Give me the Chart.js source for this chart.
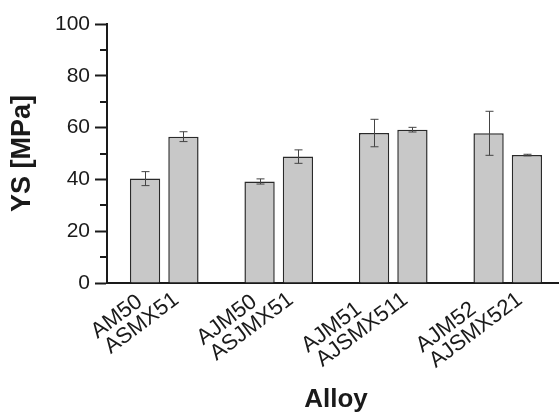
<!DOCTYPE html>
<html>
<head>
<meta charset="utf-8">
<script src="https://cdn.jsdelivr.net/npm/chart.js@4/dist/chart.umd.min.js"></script>
<style>
  html, body { margin: 0; padding: 0; background: #fff; overflow: hidden; }
  #wrap { width: 565px; height: 412px; }
</style>
</head>
<body>
<div id="wrap"><canvas id="canvasPanel"></canvas></div>
<script>
var ALLOYS = [['AM50', 'ASMX51'], ['AJM50', 'ASJMX51'], ['AJM51', 'AJSMX511'], ['AJM52', 'AJSMX521']];
var YS_BASE = [40.3, 39.2, 57.9, 57.8];
var YS_BASE_ERR = [2.7, 1.0, 5.3, 8.5];
var YS_SR = [56.5, 48.8, 59.2, 49.4];
var YS_SR_ERR = [1.9, 2.6, 0.9, 0.3];
var Y_MINOR = [10, 30, 50, 70, 90];

var FONT = "'Liberation Sans', Arial, sans-serif";
var INK = '#1a1a1a';
var TICK_FONT = { family: FONT, size: 22, lineHeight: 0.92 };

// pad the shorter first line so both lines start at the same place once rotated
function leftAlign(lines) {
  var c = document.createElement('canvas').getContext('2d');
  c.font = TICK_FONT.size + 'px ' + FONT;
  var target = c.measureText(lines[1]).width;
  var sp = c.measureText(' ').width;
  var first = lines[0];
  while (c.measureText(first).width < target - sp / 2) first += ' ';
  return [first, lines[1]];
}

var errorBars = {
  id: 'errorBars',
  afterDatasetsDraw: function(chart) {
    var ctx = chart.ctx;
    var y = chart.scales.y;
    ctx.save();
    ctx.strokeStyle = '#444';
    ctx.lineWidth = 1;
    chart.data.datasets.forEach(function(ds, i) {
      var meta = chart.getDatasetMeta(i);
      meta.data.forEach(function(bar, j) {
        var v = ds.data[j], e = ds.errors[j];
        var top = y.getPixelForValue(v + e), bot = y.getPixelForValue(v - e);
        var x = Math.round(bar.x) + 0.5, w = 4;
        ctx.beginPath();
        ctx.moveTo(x, top); ctx.lineTo(x, bot);
        ctx.moveTo(x - w, top); ctx.lineTo(x + w, top);
        ctx.moveTo(x - w, bot); ctx.lineTo(x + w, bot);
        ctx.stroke();
      });
    });
    ctx.restore();
  }
};

var minorTicks = {
  id: 'minorTicks',
  afterDraw: function(chart) {
    var ctx = chart.ctx;
    var y = chart.scales.y;
    ctx.save();
    ctx.strokeStyle = INK;
    ctx.lineWidth = 2;
    Y_MINOR.forEach(function(v) {
      var py = Math.round(y.getPixelForValue(v));
      ctx.beginPath();
      ctx.moveTo(y.right - 7, py);
      ctx.lineTo(y.right, py);
      ctx.stroke();
    });
    ctx.restore();
  }
};

var config = {
  type: 'bar',
  data: {
    labels: ALLOYS.map(leftAlign),
    datasets: [{
      label: 'base',
      data: YS_BASE,
      errors: YS_BASE_ERR,
      backgroundColor: '#c8c8c8',
      borderColor: '#2a2a2a',
      borderWidth: 1.5,
      barPercentage: 0.79,
      categoryPercentage: 0.67
    }, {
      label: 'modified',
      data: YS_SR,
      errors: YS_SR_ERR,
      backgroundColor: '#c8c8c8',
      borderColor: '#2a2a2a',
      borderWidth: 1.5,
      barPercentage: 0.79,
      categoryPercentage: 0.67
    }]
  },
  options: {
    responsive: true,
    maintainAspectRatio: false,
    animation: false,
    layout: { padding: { top: 24, right: 0, bottom: 0, left: 6 } },
    plugins: { legend: { display: false }, tooltip: { enabled: false } },
    scales: {
      x: {
        grid: { display: false, drawTicks: false },
        border: { color: INK, width: 2 },
        ticks: {
          color: INK,
          font: TICK_FONT,
          minRotation: 37,
          maxRotation: 37,
          padding: -10,
          labelOffset: 0
        },
        title: {
          display: true,
          text: 'Alloy',
          color: INK,
          font: { family: FONT, size: 26, weight: 'bold' },
          padding: { top: 6, bottom: -3 }
        },
        afterFit: function(scale) { scale.height = 412 - 283; }
      },
      y: {
        min: 0,
        max: 100,
        ticks: {
          stepSize: 20,
          color: INK,
          font: { family: FONT, size: 21 },
          padding: 5
        },
        grid: { drawOnChartArea: false, tickLength: 12, tickWidth: 2, tickColor: INK },
        border: { color: INK, width: 2 },
        title: {
          display: true,
          text: 'YS [MPa]',
          color: INK,
          font: { family: FONT, size: 27, weight: 'bold' },
          padding: { top: 0, bottom: 6 }
        },
        afterFit: function(scale) { scale.width = 107 - 6; }
      }
    }
  },
  plugins: [errorBars, minorTicks]
};

window.onload = function() {
  var ctx = document.getElementById('canvasPanel').getContext('2d');
  window.myBar = new Chart(ctx, config);
};
</script>
</body>
</html>
